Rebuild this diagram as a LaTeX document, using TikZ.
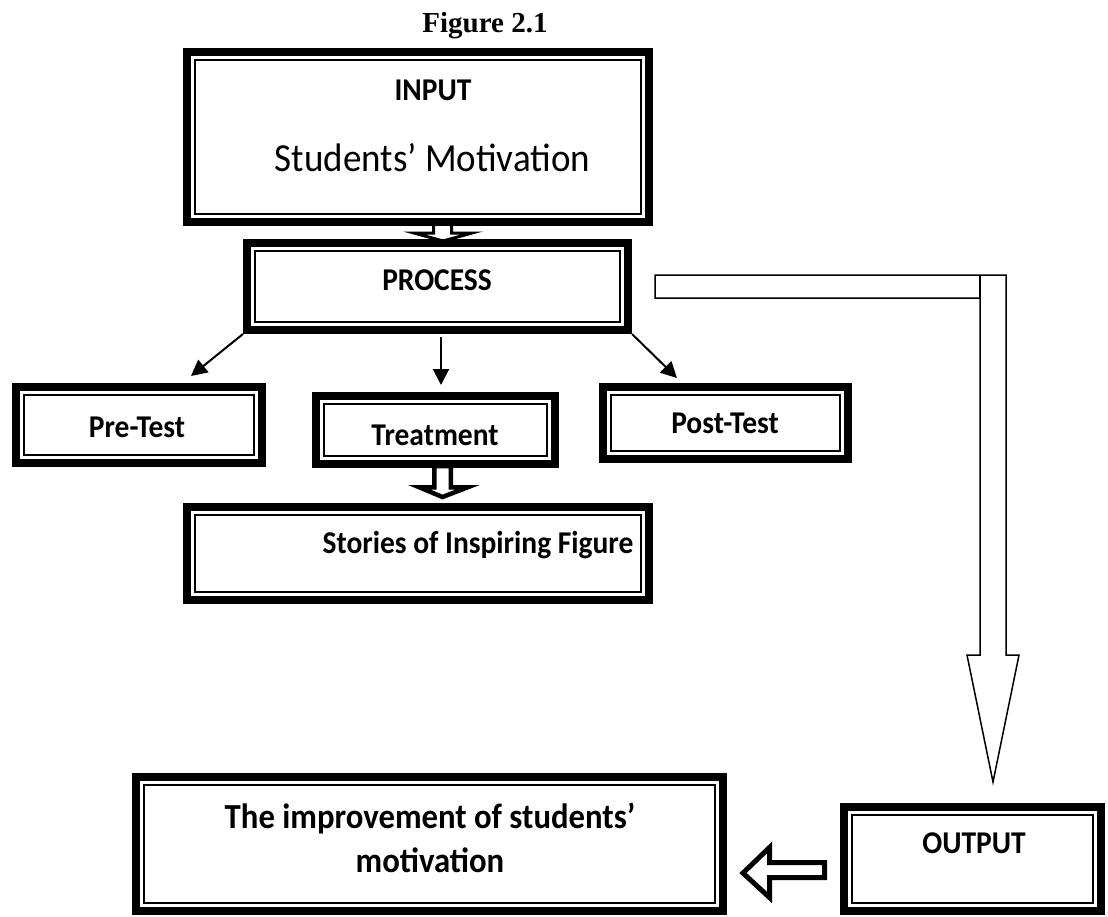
\documentclass[tikz,border=0pt]{standalone}
\usepackage{fontspec}
\setmainfont{Carlito}[FakeStretch=0.93]
\newfontfamily\timesf{Liberation Serif}
\usetikzlibrary{arrows.meta,calc,backgrounds}
\begin{document}
\begin{tikzpicture}[x=1pt,y=-1pt,
  tbox/.style={draw, line width=8pt, fill=white, inner sep=0pt,
    path picture={\draw[line width=1.8pt]
      ([shift={(8.2pt,-8.2pt)}]path picture bounding box.north west) rectangle
      ([shift={(-8.2pt,8.2pt)}]path picture bounding box.south east);}},
  lbl/.style={font=\bfseries\fontsize{31.7}{44}\selectfont, anchor=base, inner sep=0pt},
  thinarr/.style={line width=2pt, -{Triangle[length=16pt,width=16pt]}},
  blockarr/.style={draw, fill=white, line join=miter},
]
\useasboundingbox (0,0) rectangle (1108,916);

% boxes
\node[tbox, minimum width=462pt, minimum height=170pt] (input) at (418,137) {};
\node[tbox, minimum width=381pt, minimum height=87pt] (process) at (437.5,286.5) {};
\node[tbox, minimum width=246pt, minimum height=76pt] (pretest) at (139,425) {};
\node[tbox, minimum width=239pt, minimum height=68pt] (treat) at (435.5,430) {};
\node[tbox, minimum width=245pt, minimum height=72pt] (post) at (725.5,423) {};
\node[tbox, minimum width=462pt, minimum height=93pt] (stories) at (418,553.5) {};
\node[tbox, minimum width=587pt, minimum height=134pt] (improve) at (429.5,844) {};
\node[tbox, minimum width=257pt, minimum height=104pt] (output) at (972.5,859) {};

% texts
\node[font=\timesf\bfseries\fontsize{29}{32}\selectfont, anchor=base, inner sep=0pt] (tfig) at (485,32) {Figure 2.1};
\node[lbl] (tin) at (433,100) {INPUT};
\node[font=\fontsize{39.8}{44}\selectfont, anchor=base, inner sep=0pt] (tmot) at (432.5,171) {Students’ Motivation};
\node[lbl] (tproc) at (437,290) {PROCESS};
\node[lbl] (tpre) at (137,437) {Pre-Test};
\node[lbl] (ttreat) at (435,445) {Treatment};
\node[lbl] (tpost) at (725,433) {Post-Test};
\node[lbl] (tstor) at (478,553) {Stories of Inspiring Figure};
\node[lbl] (tout) at (974,853) {OUTPUT};
\node[lbl, font=\bfseries\fontsize{35.2}{44}\selectfont, align=center] (timp) at (430,872) {The improvement of students’\\motivation};

% connectors
\begin{scope}[on background layer]
  % INPUT -> PROCESS block arrow
  \path[blockarr, line width=3pt]
    (433.5,222) -- (433.5,233) -- (414,233) -- (443,241) -- (472,233)
    -- (451.5,233) -- (451.5,222) -- cycle;
  % Treatment -> Stories block arrow
  \path[blockarr, line width=4.5pt]
    (434.25,466) -- (434.25,487.25) -- (419.25,487.25) -- (442.5,497) -- (467.75,487.25)
    -- (450.75,487.25) -- (450.75,466) -- cycle;
  \draw[thinarr] (process.south west) -- ($(pretest.north)+(52,-7)$);
  \draw[thinarr] ($(process.south)+(3.5,3)$) -- ($(treat.north)+(5.5,-7)$);
  \draw[thinarr] (process.south east) -- ($(post.north)+(-48.5,-5)$);
\end{scope}

% PROCESS -> OUTPUT bent hollow arrow
\path[blockarr, line width=1.5pt]
  (655,275) -- (1006,275) -- (1006,655) -- (1019,655) -- (993,782) -- (967,655)
  -- (980,655) -- (980,298) -- (655,298) -- cycle;
\draw[line width=1.5pt] (980,275) -- (980,298);

% OUTPUT -> improvement hollow arrow
\path[blockarr, line width=5pt]
  (824.5,862.5) -- (769.5,862.5) -- (769.5,847.5) -- (743,873)
  -- (769.5,897.5) -- (769.5,877.5) -- (824.5,877.5) -- cycle;
\end{tikzpicture}
\end{document}
